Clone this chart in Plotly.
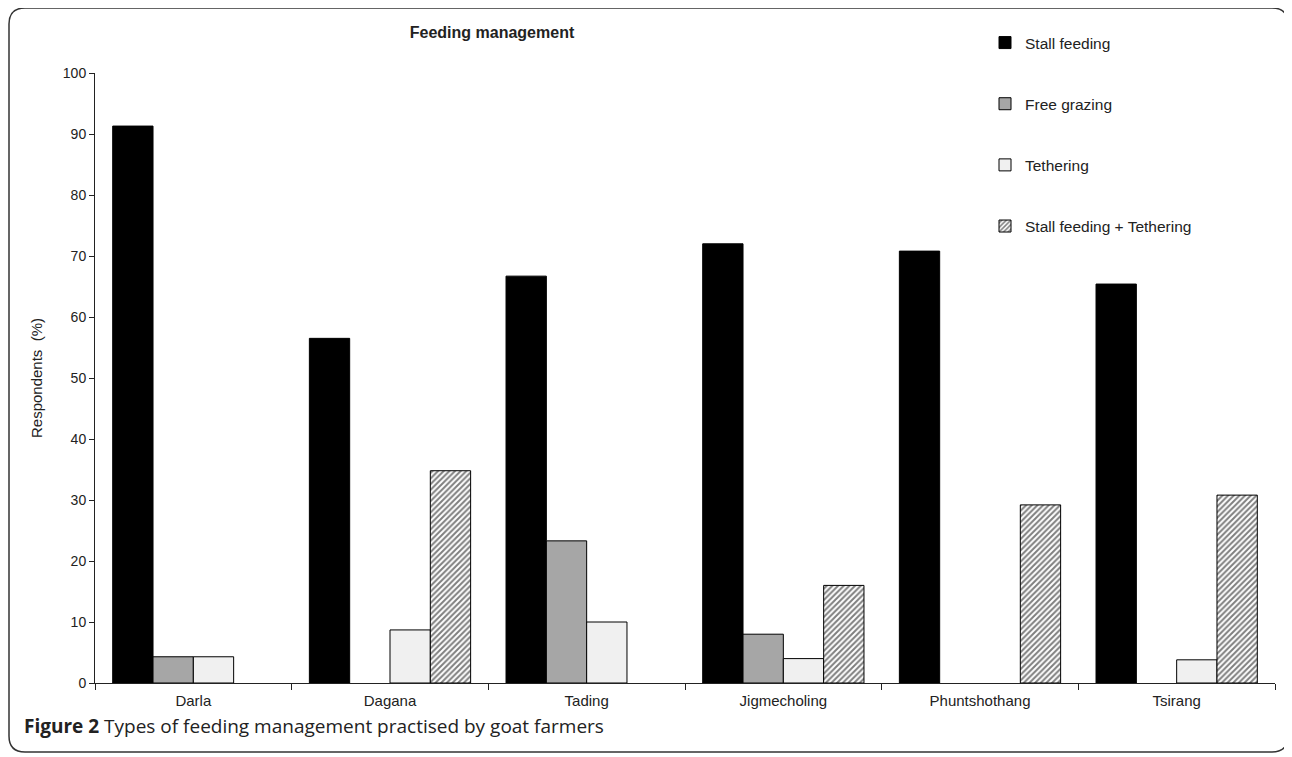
import plotly.graph_objects as go

categories = ["Darla", "Dagana", "Tading", "Jigmecholing", "Phuntshothang", "Tsirang"]
stall_feeding = [91.3, 56.5, 66.7, 72.0, 70.8, 65.4]
free_grazing = [4.3, 0, 23.3, 8.0, 0, 0]
tethering = [4.3, 8.7, 10.0, 4.0, 0, 3.8]
stall_tethering = [0, 34.8, 0, 16.0, 29.2, 30.8]
y_ticks = list(range(0, 101, 10))

OFF = 8  # browser body margin
W, H = 1292 - OFF, 757 - OFF
# plot area in reference pixel coordinates
L, R, T, B = 95, 1275, 73, 683
l, r, t, b = L - OFF, R - OFF, T - OFF, B - OFF


def px(x):
    return (x - L) / (R - L)


def py(y):
    return (B - y) / (B - T)


def nz(vals):
    return [v if v > 0 else None for v in vals]


fig = go.Figure()
line = dict(color="black", width=1)
fig.add_trace(go.Bar(name="Stall feeding", x=categories, y=nz(stall_feeding),
                     marker=dict(color="black", line=line), legendgroup="a"))
fig.add_trace(go.Bar(name="Free grazing", x=categories, y=nz(free_grazing),
                     marker=dict(color="#a6a6a6", line=line), legendgroup="b"))
fig.add_trace(go.Bar(name="Tethering", x=categories, y=nz(tethering),
                     marker=dict(color="#f0f0f0", line=line), legendgroup="c"))
fig.add_trace(go.Bar(name="Stall feeding + Tethering", x=categories, y=nz(stall_tethering),
                     marker=dict(color="white", line=line,
                                 pattern=dict(shape="/", fgcolor="black", bgcolor="white",
                                              size=4, solidity=0.5)),
                     legendgroup="d"))

# rounded frame
x0, x1, y0, y1, rad = px(9), px(1288), py(8), py(752), 16
rx, ry = rad / (R - L), rad / (B - T)
path = (f"M {x0+rx},{y0} L {x1-rx},{y0} Q {x1},{y0} {x1},{y0-ry} "
        f"L {x1},{y1+ry} Q {x1},{y1} {x1-rx},{y1} "
        f"L {x0+rx},{y1} Q {x0},{y1} {x0},{y1+ry} "
        f"L {x0},{y0-ry} Q {x0},{y0} {x0+rx},{y0} Z")

fig.update_layout(
    width=W, height=H,
    margin=dict(l=l, r=W - r, t=t, b=H - b, autoexpand=False),
    paper_bgcolor="white", plot_bgcolor="white",
    font=dict(family="Liberation Sans, Arial, sans-serif", size=15, color="#222"),
    barmode="group", bargap=0.18, bargroupgap=0,
    showlegend=True,
    legend=dict(x=px(985), y=py(26), xanchor="left", yanchor="top",
                font=dict(size=15.5, color="#222"), tracegroupgap=38,
                bgcolor="rgba(0,0,0,0)", itemwidth=30),
    title=dict(text="<b>Feeding management</b>", x=px(492), xref="paper", xanchor="center",
               y=1 - (32 - OFF) / H, yanchor="middle", font=dict(size=16, color="#222")),
    shapes=[dict(type="path", path=path, xref="paper", yref="paper",
                 line=dict(color="#333", width=1.5))],
    annotations=[dict(text="<b>Figure 2</b> Types of feeding management practised by goat farmers",
                      x=px(22), y=py(726), xref="paper", yref="paper", xanchor="left",
                      yanchor="middle", showarrow=False,
                      font=dict(family="Open Sans, sans-serif", size=19, color="#222"))],
)
fig.update_xaxes(showline=True, linecolor="#222", linewidth=1, ticks="outside",
                 tickson="boundaries", ticklen=6, tickcolor="#222", showgrid=False,
                 tickfont=dict(size=15), ticklabelstandoff=4)
fig.update_yaxes(range=[0, 100], tickvals=y_ticks, showline=True, linecolor="#222",
                 linewidth=1, ticks="outside", ticklen=5, tickcolor="#222", showgrid=False,
                 zeroline=False, tickfont=dict(size=14),
                 title=dict(text="Respondents  (%)", font=dict(size=15), standoff=16))

fig.write_html("out.html")
